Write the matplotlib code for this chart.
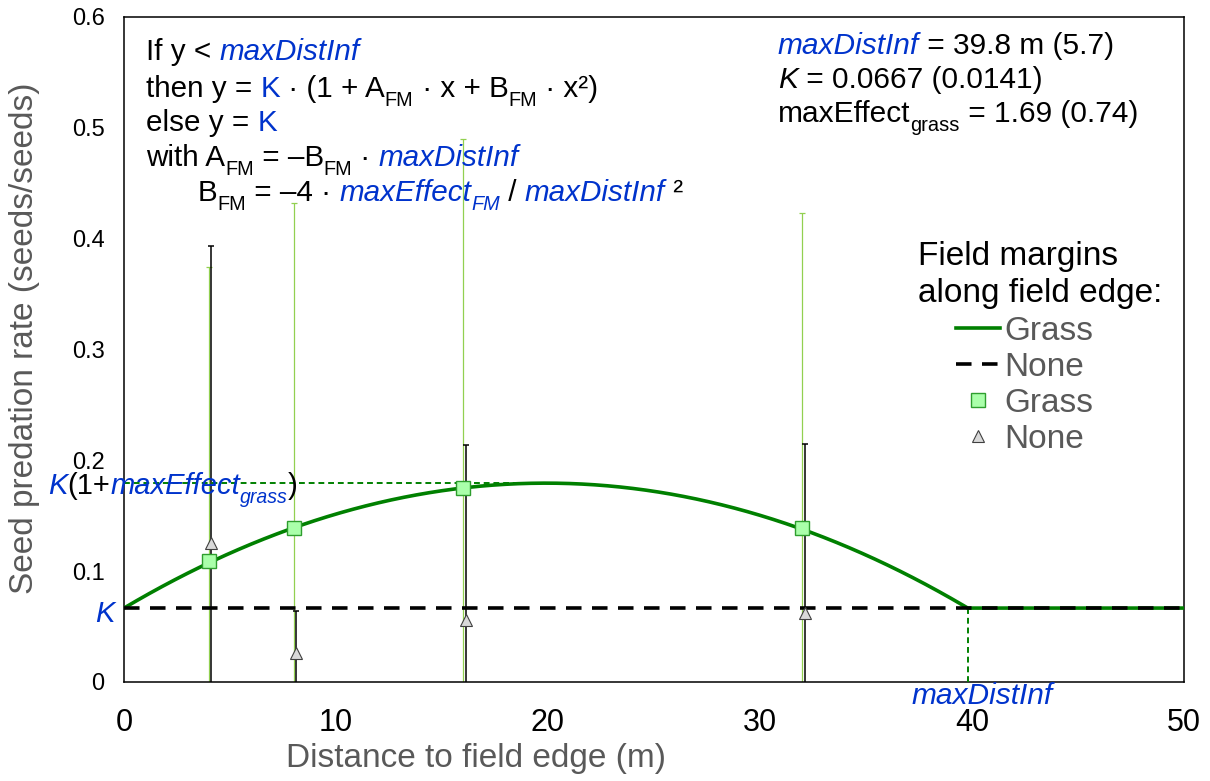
import numpy as np
import matplotlib
matplotlib.use("Agg")
import matplotlib.pyplot as plt
from matplotlib.lines import Line2D
from matplotlib.transforms import IdentityTransform
from matplotlib.font_manager import FontProperties

plt.rcParams['font.family'] = ['Liberation Sans', 'DejaVu Sans']

# data
dist = np.array([4, 8, 16, 32])
grass_mean = [0.109, 0.139, 0.175, 0.139]
grass_err = [0.265, 0.293, 0.315, 0.284]
none_mean = [0.125, 0.026, 0.056, 0.062]
none_err = [0.268, 0.038, 0.158, 0.153]

# fitted parameters shown in the chart
max_dist = 39.8
K = 0.0667
max_effect = 1.69

xticks = [0, 10, 20, 30, 40, 50]
yticks = [0, 0.1, 0.2, 0.3, 0.4, 0.5, 0.6]
ytick_labels = ['0', '0.1', '0.2', '0.3', '0.4', '0.5', '0.6']

BLUE = '#0033CC'
GREEN = '#008000'
LGREEN = '#92D050'
GREY = '#595959'

W, H = 1210, 781
fig = plt.figure(figsize=(W / 100, H / 100), dpi=100)
ax = fig.add_axes([124 / W, 1 - 682 / H, (1184 - 124) / W, (682 - 17) / H])

# model curve (grass) and constant (none)
B = -4 * max_effect / max_dist ** 2
A = -B * max_dist
xf = np.linspace(0, max_dist, 200)
yf = K * (1 + A * xf + B * xf ** 2)
xf = np.append(xf, 50)
yf = np.append(yf, K)

ax.errorbar(dist, grass_mean, yerr=grass_err, fmt='none', ecolor=LGREEN,
            elinewidth=0.9, capsize=2.5, capthick=0.9, zorder=2)
ax.errorbar(dist + 0.12, none_mean, yerr=none_err, fmt='none', ecolor='black',
            elinewidth=1.1, capsize=2.5, capthick=1.1, zorder=2.1)

ax.plot(xf, yf, color=GREEN, lw=2.6, zorder=3)
ax.plot([0, 50], [K, K], color='black', lw=2.6, ls=(0, (4.3, 2.9)), zorder=3.5)
ax.plot([0, max_dist / 2], [K * (1 + max_effect)] * 2, color=GREEN, lw=1.4,
        ls=(0, (3, 2)), zorder=3)
ax.plot([max_dist, max_dist], [0, K], color=GREEN, lw=1.4, ls=(0, (3, 2)), zorder=3)

ax.plot(dist + 0.12, none_mean, ls='none', marker='^', ms=9, mfc='#D9D9D9',
        mec='#404040', mew=0.8, zorder=5)
ax.plot(dist, grass_mean, ls='none', marker='s', ms=10, mfc='#AAFFAA',
        mec='#2E9E2E', mew=1.0, zorder=6)

ax.set_xlim(0, 50)
ax.set_ylim(0, 0.6)
ax.set_xticks(xticks)
ax.set_yticks(yticks)
ax.set_yticklabels(ytick_labels)
ax.tick_params(axis='y', length=0, pad=14, labelsize=17)
ax.tick_params(axis='x', length=0, pad=19, labelsize=22)
for s in ax.spines.values():
    s.set_linewidth(1.1)

fig.text(476 / W, 1 - 759 / H, 'Distance to field edge (m)', fontsize=24,
         color=GREY, ha='center', va='center')
fig.text(25 / W, 1 - 338 / H, 'Seed predation rate (seeds/seeds)', fontsize=24,
         color=GREY, ha='center', va='center', rotation=90)

renderer = fig.canvas.get_renderer()


def width_of(s, prop):
    w1, _, _ = renderer.get_text_width_height_descent('x' + s + 'x', prop, ismath=False)
    w0, _, _ = renderer.get_text_width_height_descent('xx', prop, ismath=False)
    return w1 - w0


def rich(x, y, pieces, size):
    # x, y: image pixels of the baseline start
    for p in pieces:
        txt, col = p[0], p[1]
        ital = 'i' in p[2:] if len(p) > 2 else False
        sub = 's' in p[2:] if len(p) > 2 else False
        fs = size * 0.67 if sub else size
        dy = size * 0.3 * 100 / 72 if sub else 0
        prop = FontProperties(family=['Liberation Sans', 'DejaVu Sans'], size=fs,
                              style='italic' if ital else 'normal')
        fig.text(x, H - y - dy, txt, color=col, fontproperties=prop,
                 ha='left', va='baseline', transform=IdentityTransform())
        x += width_of(txt, prop)


k = 'black'
fs_eq = 21.3
rich(146, 60, [('If y < ', k), ('maxDistInf', BLUE, 'i')], fs_eq)
rich(146, 97, [('then y = ', k), ('K', BLUE), (' · (1 + A', k), ('FM', k, 's'),
               (' · x + B', k), ('FM', k, 's'), (' · x²)', k)], fs_eq)
rich(146, 131, [('else y = ', k), ('K', BLUE)], fs_eq)
rich(146, 166, [('with A', k), ('FM', k, 's'), (' = –B', k), ('FM', k, 's'),
                (' · ', k), ('maxDistInf', BLUE, 'i')], fs_eq)
rich(198, 201, [('B', k), ('FM', k, 's'), (' = –4 · ', k), ('maxEffect', BLUE, 'i'),
                ('FM', BLUE, 'i', 's'), (' / ', k), ('maxDistInf', BLUE, 'i'),
                (' ²', k)], fs_eq)

fs_par = 21.5
rich(778, 54, [('maxDistInf', BLUE, 'i'), (' = 39.8 m (5.7)', k)], fs_par)
rich(778, 88, [('K', k, 'i'), (' = 0.0667 (0.0141)', k)], fs_par)
rich(778, 122, [('maxEffect', k), ('grass', k, 's'), (' = 1.69 (0.74)', k)], fs_par)

rich(48, 494, [('K', BLUE, 'i'), ('(1+', k), ('maxEffect', BLUE, 'i'),
               ('grass', BLUE, 'i', 's'), (')', k)], 21)
rich(95, 622, [('K', BLUE, 'i')], 21)
rich(912, 704, [('maxDistInf', BLUE, 'i')], 21.5)

# legend
rich(918, 265, [('Field margins', k)], 24)
rich(918, 302, [('along field edge:', k)], 24)
handles = [
    Line2D([], [], color=GREEN, lw=2.6),
    Line2D([], [], color='black', lw=2.6, ls=(0, (4.3, 2.9))),
    Line2D([], [], ls='none', marker='s', ms=10, mfc='#AAFFAA', mec='#2E9E2E', mew=1.0),
    Line2D([], [], ls='none', marker='^', ms=9, mfc='#D9D9D9', mec='#404040', mew=0.8),
]
labels = ['Grass', 'None', 'Grass', 'None']
fig.legend(handles, labels, loc='upper left', bbox_to_anchor=(956 / W, 1 - 316 / H),
           frameon=False, borderpad=0, borderaxespad=0, fontsize=24,
           labelcolor=GREY, handlelength=1.32, handletextpad=0.12,
           labelspacing=0.15)

fig.savefig('out.png', dpi=100)
